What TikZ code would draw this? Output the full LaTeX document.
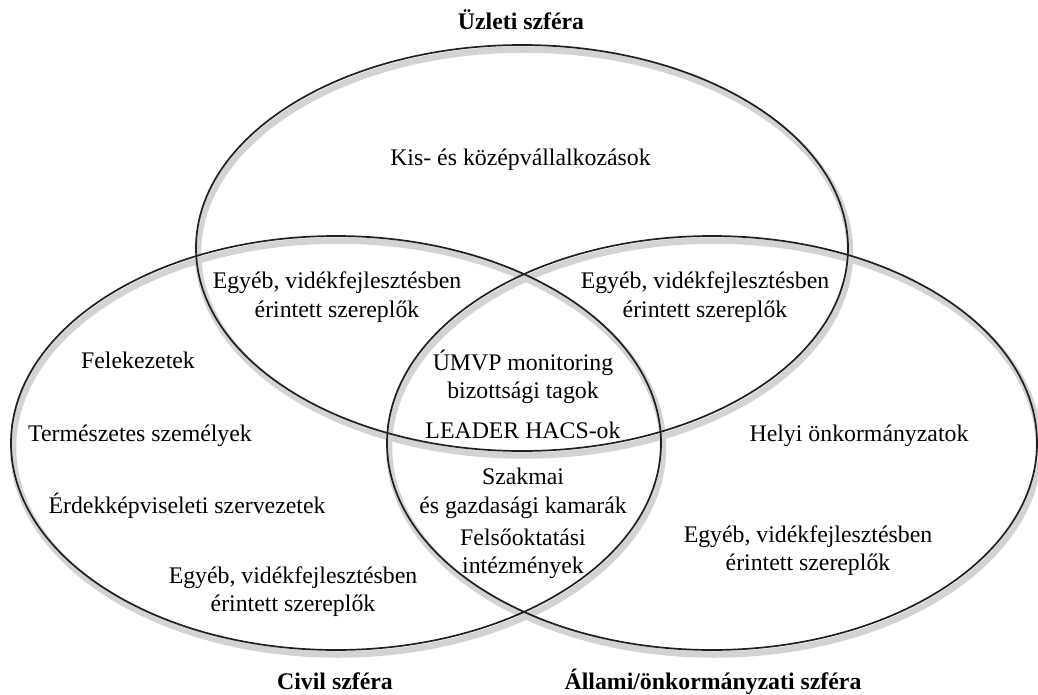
\documentclass[tikz,border=0pt]{standalone}
\usepackage{fontspec}
\setmainfont{Liberation Serif}
\begin{document}
\begin{tikzpicture}[x=1pt,y=-1pt,
  lbl/.style={anchor=base,inner sep=0pt,font=\fontsize{23.8}{28.5}\selectfont},
  ttl/.style={anchor=base,inner sep=0pt,font=\fontsize{23.8}{28.5}\selectfont\bfseries},
  shade/.style={draw={rgb,255:red,210;green,211;blue,213},line width=6.5pt},
  rim/.style={draw={rgb,255:red,35;green,31;blue,32},line width=1.7pt}]
\useasboundingbox (0,0) rectangle (1038,695);
% shadows
\begin{scope}[shift={(2,4.5)}]
  \path[shade] (522,248) ellipse [x radius=326pt, y radius=203pt];
  \path[shade] (336,443) ellipse [x radius=325pt, y radius=207pt];
  \path[shade] (712,443) ellipse [x radius=325pt, y radius=207pt];
\end{scope}
% outlines
\path[rim] (522,248) ellipse [x radius=326pt, y radius=203pt];
\path[rim] (336,443) ellipse [x radius=325pt, y radius=207pt];
\path[rim] (712,443) ellipse [x radius=325pt, y radius=207pt];
% titles
\node[ttl] (tbiz) at (521,30) {Üzleti szféra};
\node[ttl] (tciv) at (335,689) {Civil szféra};
\node[ttl] (tall) at (713,689) {Állami/önkormányzati szféra};
% business sphere
\node[lbl] (kkv) at (520.5,166) {Kis- és középvállalkozások};
\node[lbl] (tl1) at (337,288) {Egyéb, vidékfejlesztésben};
\node[lbl] (tl2) at (337,317) {érintett szereplők};
\node[lbl] (tr1) at (705,288) {Egyéb, vidékfejlesztésben};
\node[lbl] (tr2) at (705,317) {érintett szereplők};
% civil sphere
\node[lbl] (fel) at (138,368) {Felekezetek};
\node[lbl] (ter) at (140,441) {Természetes személyek};
\node[lbl] (erd) at (187,513) {Érdekképviseleti szervezetek};
\node[lbl] (bl1) at (293,583) {Egyéb, vidékfejlesztésben};
\node[lbl] (bl2) at (293,611) {érintett szereplők};
% centre
\node[lbl] (c1) at (523,370) {ÚMVP monitoring};
\node[lbl] (c2) at (523,398) {bizottsági tagok};
\node[lbl] (c3) at (523,438) {LEADER HACS-ok};
\node[lbl] (c4) at (523,484) {Szakmai};
\node[lbl] (c5) at (523,513) {és gazdasági kamarák};
\node[lbl] (c6) at (523,545) {Felsőoktatási};
\node[lbl] (c7) at (523,573) {intézmények};
% state sphere
\node[lbl] (hel) at (859,441) {Helyi önkormányzatok};
\node[lbl] (br1) at (808,542) {Egyéb, vidékfejlesztésben};
\node[lbl] (br2) at (808,570) {érintett szereplők};
\end{tikzpicture}
\end{document}
